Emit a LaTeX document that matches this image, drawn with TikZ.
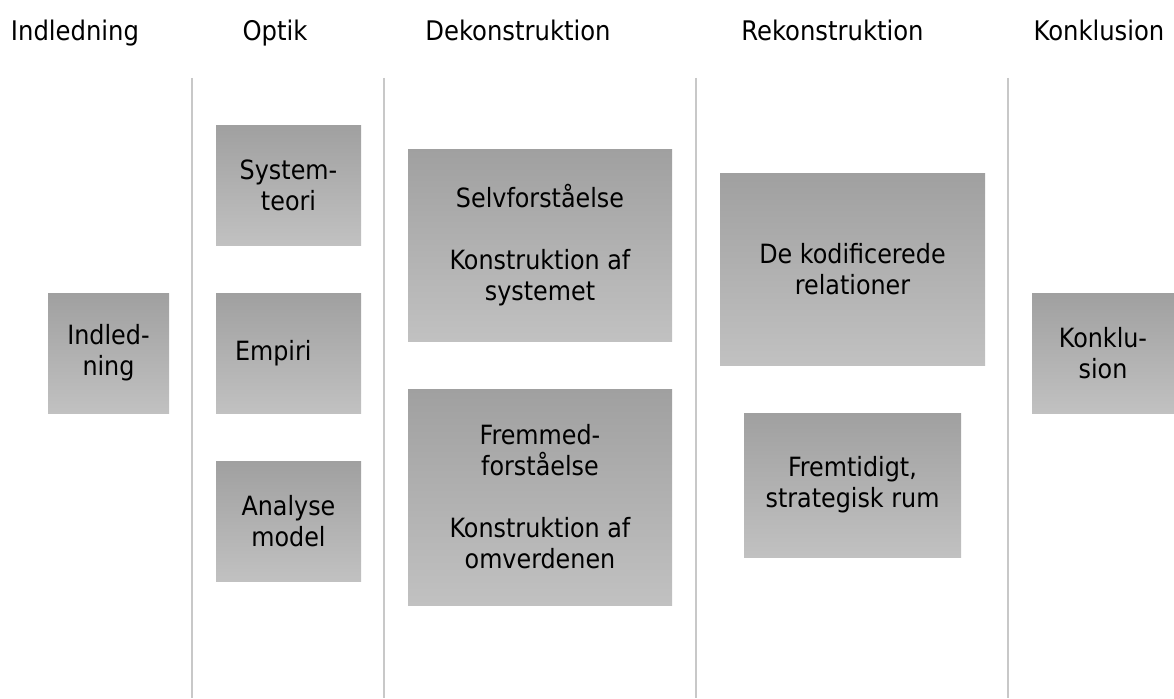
\documentclass[tikz,border=0pt]{standalone}
\usepackage{fontspec}
\setmainfont{DejaVu Sans Condensed}
\usetikzlibrary{positioning}

\definecolor{boxtop}{RGB}{160,160,160}
\definecolor{boxbottom}{RGB}{193,193,193}
\definecolor{rulegray}{RGB}{200,200,200}

\begin{document}
\begin{tikzpicture}[x=1pt,y=-1pt,
  box/.style={rectangle, top color=boxtop, bottom color=boxbottom, inner sep=0pt,
    align=center, font=\fontsize{26.5}{31}\selectfont},
  heading/.style={anchor=base, font=\fontsize{27}{31}\selectfont},
  divider/.style={draw=rulegray, line width=1.2pt}]
        \useasboundingbox (0,0) rectangle (1174,698);
        % column headings
        \node[heading] (hIndl) at (75,41) {Indledning};
        \node[heading] (hOpt) at (275,41) {Optik};
        \node[heading] (hDek) at (518,41) {Dekonstruktion};
        \node[heading] (hRek) at (832.5,41) {Rekonstruktion};
        \node[heading] (hKon) at (1099,41) {Konklusion};
        % dividers
        \foreach \x in {192,384,696,1008}
            \draw[divider] (\x,78) -- (\x,698);
        % boxes
        \node[box, minimum width=121pt, minimum height=120pt] (indl) at (108.5,353) {Indled-\\ning};
        \node[box, minimum width=145pt, minimum height=120pt] (sys) at (288.5,185) {System-\\teori};
        \node[box, minimum height=120pt, text width=107pt, inner xsep=19pt, align=left] (emp) at (288.5,353) {Empiri};
        \node[box, minimum width=145pt, minimum height=120pt] (ana) at (288.5,521) {Analyse\\model};
        \node[box, minimum width=264pt, minimum height=192pt] (selv) at (540,245) {Selvforståelse\\[31pt]Konstruktion af\\systemet};
        \node[box, minimum width=264pt, minimum height=216pt] (fremmed) at (540,497) {Fremmed-\\forståelse\\[31pt]Konstruktion af\\omverdenen};
        \node[box, minimum width=265pt, minimum height=192pt] (kodi) at (852.5,269) {De kodificerede\\relationer};
        \node[box, minimum width=217pt, minimum height=144pt] (rum) at (852.5,485) {Fremtidigt,\\strategisk rum};
        \node[box, minimum width=142pt, minimum height=120pt] (konkl) at (1103,353) {Konklu-\\sion};
\end{tikzpicture}
\end{document}
